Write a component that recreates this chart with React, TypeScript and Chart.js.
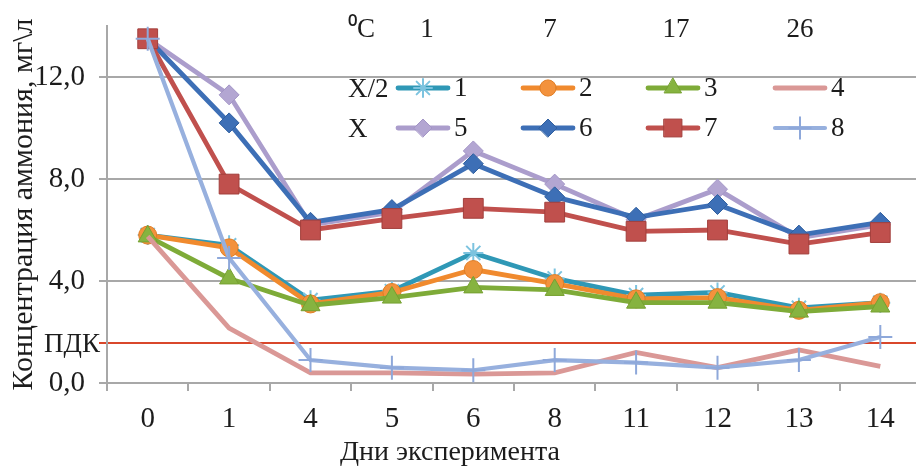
import React, { useEffect, useRef } from 'react';
import { Chart, registerables } from 'chart.js';
import { drawPoint } from 'chart.js/helpers';

Chart.register(...registerables);

const days = ['0', '1', '4', '5', '6', '8', '11', '12', '13', '14'];
const series1 = [5.8, 5.4, 3.25, 3.6, 5.1, 4.1, 3.45, 3.55, 2.95, 3.15];
const series2 = [5.8, 5.3, 3.1, 3.55, 4.45, 3.9, 3.3, 3.35, 2.85, 3.15];
const series3 = [5.75, 4.1, 3.05, 3.35, 3.75, 3.65, 3.15, 3.15, 2.8, 3.0];
const series4 = [5.75, 2.15, 0.4, 0.4, 0.35, 0.4, 1.2, 0.6, 1.3, 0.65];
const series5 = [13.5, 11.3, 6.2, 6.7, 9.1, 7.8, 6.4, 7.6, 5.7, 6.2];
const series6 = [13.5, 10.2, 6.3, 6.8, 8.6, 7.3, 6.5, 7.0, 5.8, 6.3];
const series7 = [13.5, 7.8, 6.0, 6.45, 6.85, 6.7, 5.95, 6.0, 5.45, 5.9];
const series8 = [13.5, 4.9, 0.9, 0.6, 0.5, 0.9, 0.8, 0.6, 0.9, 1.8];
const seriesNames = ['1', '2', '3', '4', '5', '6', '7', '8'];
const rowLabels = ['X/2', 'X'];
const tempLabels = ['1', '7', '17', '26'];
const tempUnit = '⁰C';
const PDK = 1.55;
const PDK_LABEL = 'ПДК';
const yTickValues = [0, 4, 8, 12];
const yMax = 14;
const xTitle = 'Дни эксперимента';
const yTitle = 'Концентрация аммония, мг\\л';

const FONT = '"Liberation Serif", "Times New Roman", serif';
const TEXT = '#1c1c1c';
const GRID = '#a8a8a8';
const PDK_COLOR = '#d9472b';

type Style = {
  line: string;
  fill: string;
  border: string;
  style: string | false;
  radius: number;
  bw: number;
  lw: number;
};

const styles: Style[] = [
  { line: '#2f98b6', fill: '#7cc3df', border: '#7cc3df', style: 'star', radius: 10, bw: 2, lw: 4.8 },
  { line: '#f08a2e', fill: '#f3923d', border: '#e07d24', style: 'circle', radius: 9, bw: 1, lw: 4.8 },
  { line: '#7eab38', fill: '#86b340', border: '#76a030', style: 'triangle', radius: 11, bw: 1, lw: 4.8 },
  { line: '#da9896', fill: '#da9896', border: '#da9896', style: false, radius: 0, bw: 0, lw: 4.8 },
  { line: '#ab9dcc', fill: '#b3a6d2', border: '#a395c6', style: 'rectRot', radius: 10, bw: 1, lw: 4.8 },
  { line: '#3d6fb6', fill: '#3d6fb6', border: '#31609f', style: 'rectRot', radius: 10, bw: 1, lw: 4.8 },
  { line: '#c0504d', fill: '#c0504d', border: '#a23f3c', style: 'rect', radius: 14, bw: 1, lw: 4.8 },
  { line: '#97b0de', fill: '#97b0de', border: '#8ea8da', style: 'cross', radius: 12, bw: 2, lw: 4.2 },
];

const allSeries = [series1, series2, series3, series4, series5, series6, series7, series8];

const overlayPlugin = {
  id: 'overlay',
  afterDraw(chart: any) {
    const ctx = chart.ctx as CanvasRenderingContext2D;
    const area = chart.chartArea;
    const yScale = chart.scales.y;
    ctx.save();
    // PDK label next to its red line
    ctx.fillStyle = TEXT;
    ctx.textBaseline = 'middle';
    ctx.textAlign = 'right';
    ctx.font = `27px ${FONT}`;
    ctx.fillText(PDK_LABEL, area.left - 7, yScale.getPixelForValue(PDK) + 1);

    // header row
    ctx.font = `27px ${FONT}`;
    ctx.textAlign = 'left';
    ctx.fillText(tempUnit, 348, 30);
    const tempX = [427, 550, 676, 800];
    ctx.textAlign = 'center';
    tempLabels.forEach((t, i) => ctx.fillText(t, tempX[i], 30));

    // legend rows
    const rowY = [88, 128];
    const colX = [398, 523, 648, 775];
    ctx.textAlign = 'left';
    rowLabels.forEach((r, i) => ctx.fillText(r, 348, rowY[i] + 2));
    chart.data.datasets.forEach((ds: any, i: number) => {
      const row = i < 4 ? 0 : 1;
      const col = i % 4;
      const x0 = colX[col];
      const x1 = x0 + 50;
      const y = rowY[row];
      const st = styles[i];
      ctx.strokeStyle = st.line;
      ctx.lineWidth = st.lw;
      ctx.lineCap = 'round';
      ctx.beginPath();
      ctx.moveTo(x0, y);
      ctx.lineTo(x1, y);
      ctx.stroke();
      if (st.style) {
        ctx.fillStyle = st.fill;
        ctx.strokeStyle = st.border;
        ctx.lineWidth = st.bw;
        drawPoint(ctx, { pointStyle: st.style, rotation: 0, radius: st.radius * 0.9, borderWidth: st.bw }, (x0 + x1) / 2, y);
      }
      ctx.fillStyle = TEXT;
      ctx.font = `27px ${FONT}`;
      ctx.fillText(ds.label, x1 + 6, y + 1);
    });

    // x axis title
    ctx.font = `28px ${FONT}`;
    ctx.textAlign = 'center';
    ctx.fillText(xTitle, 450, 453);
    ctx.restore();
  },
};

export default function App() {
  const ref = useRef<HTMLCanvasElement | null>(null);

  useEffect(() => {
    if (!ref.current) return;
    const chart = new Chart(ref.current, {
      type: 'line',
      data: {
        labels: days,
        datasets: allSeries.map((data, i) => {
          const st = styles[i];
          return {
            label: seriesNames[i],
            data,
            order: 8 - i,
            borderColor: st.line,
            backgroundColor: st.fill,
            borderWidth: st.lw,
            tension: 0,
            pointStyle: st.style as any,
            pointRadius: st.radius,
            pointHoverRadius: st.radius,
            pointBackgroundColor: st.fill,
            pointBorderColor: st.border,
            pointBorderWidth: st.bw,
          };
        }),
      },
      options: {
        animation: false,
        responsive: false,
        events: [],
        layout: { autoPadding: false, padding: { top: 26, left: 0, right: 0, bottom: 0 } },
        plugins: { legend: { display: false }, tooltip: { enabled: false } },
        scales: {
          x: {
            offset: true,
            afterFit: (scale: any) => {
              scale.height = 85;
              scale.paddingLeft = 0;
              scale.paddingRight = 0;
            },
            grid: {
              offset: true,
              drawOnChartArea: false,
              color: GRID,
              lineWidth: 2,
              tickLength: 8,
            },
            border: { color: GRID, width: 2 },
            ticks: {
              font: { family: FONT, size: 29 },
              color: TEXT,
              padding: 11,
              maxRotation: 0,
              autoSkip: false,
            },
          },
          y: {
            min: 0,
            max: yMax,
            afterBuildTicks: (scale: any) => {
              const vals = [...yTickValues, PDK].sort((a, b) => a - b);
              scale.ticks = vals.map((v) => ({ value: v }));
            },
            afterFit: (scale: any) => {
              scale.width = 107;
              scale.paddingTop = 0;
              scale.paddingBottom = 0;
            },
            ticks: {
              font: { family: FONT, size: 29 },
              color: TEXT,
              padding: 14,
              callback: (v: any) => (v === PDK ? '' : Number(v).toFixed(1).replace('.', ',')),
            },
            grid: {
              color: (c: any) => (c.tick && c.tick.value === PDK ? PDK_COLOR : GRID),
              tickColor: (c: any) => (c.tick && c.tick.value === PDK ? PDK_COLOR : GRID),
              lineWidth: 2,
              tickLength: 8,
            },
            border: { color: GRID, width: 2 },
            title: {
              display: true,
              text: yTitle,
              font: { family: FONT, size: 30 },
              color: TEXT,
              padding: { top: 6, bottom: 0 },
            },
          },
        },
      },
      plugins: [overlayPlugin],
    });
    return () => chart.destroy();
  }, []);

  return (
    <div
      style={{
        position: 'absolute',
        left: 0,
        top: 0,
        width: 916,
        height: 468,
        overflow: 'hidden',
        background: '#ffffff',
      }}
    >
      <canvas ref={ref} width={921} height={468} style={{ display: 'block' }} />
    </div>
  );
}
